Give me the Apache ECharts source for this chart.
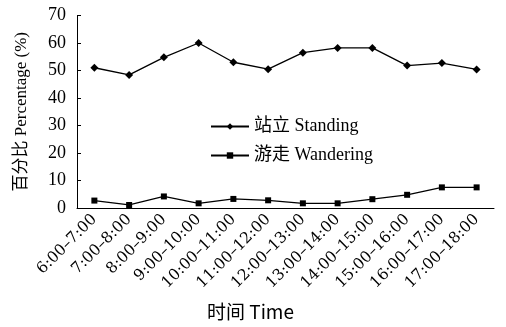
<!DOCTYPE html>
<html><head><meta charset="utf-8">
<script src="https://cdn.jsdelivr.net/npm/echarts@6/dist/echarts.min.js"></script>
<style>html,body{margin:0;padding:0;background:#fff}#c{width:506px;height:327px}</style>
</head><body><div id="c"></div>
<script>
const categories = ['6:00–7:00','7:00–8:00','8:00–9:00','9:00–10:00','10:00–11:00','11:00–12:00','12:00–13:00','13:00–14:00','14:00–15:00','15:00–16:00','16:00–17:00','17:00–18:00'];
const standing = [51.0, 48.4, 54.8, 60.0, 53.0, 50.5, 56.5, 58.2, 58.2, 51.8, 52.7, 50.4];
const wandering = [2.7, 1.1, 4.2, 1.7, 3.3, 2.8, 1.7, 1.7, 3.2, 4.8, 7.5, 7.5];
const yTicks = [0, 10, 20, 30, 40, 50, 60, 70];

const serif = '"Liberation Serif","Noto Sans CJK SC",serif';
const chart = echarts.init(document.getElementById('c'));
chart.setOption({
  animation: false,
  title: {
    text: '时间 Time', left: 207, top: 302, padding: 0,
    textStyle: {fontFamily: '"Noto Sans CJK SC","Liberation Mono",monospace', fontSize: 19, fontWeight: 'normal', color: '#000'}
  },
  legend: {
    orient: 'vertical', left: 210, top: 117.5, padding: 0, itemWidth: 38, itemHeight: 8, itemGap: 11,
    textStyle: {fontFamily: serif, fontSize: 18, color: '#000'},
    data: ['站立 Standing', '游走 Wandering']
  },
  grid: {left: 77, right: 12, top: 15.5, bottom: 119, containLabel: false},
  xAxis: {
    type: 'category', data: categories, boundaryGap: true,
    axisLine: {lineStyle: {color: '#000', width: 1}},
    axisTick: {inside: true, length: 4, lineStyle: {color: '#000'}},
    axisLabel: {rotate: 45, fontFamily: '"DejaVu Serif","Liberation Serif",serif', fontSize: 15.5, color: '#000', interval: 0, margin: 9}
  },
  yAxis: {
    type: 'value', min: 0, max: 70, interval: 10,
    name: '百分比 Percentage (%)', nameLocation: 'middle', nameGap: 47,
    nameTextStyle: {fontFamily: serif, fontSize: 17, color: '#000'},
    axisLine: {show: true, lineStyle: {color: '#000', width: 1}},
    axisTick: {show: true, inside: true, length: 4, lineStyle: {color: '#000'}},
    splitLine: {show: false},
    axisLabel: {fontFamily: serif, fontSize: 18, color: '#000', margin: 11,
      formatter: v => yTicks.includes(v) ? String(v) : ''}
  },
  series: [
    {name: '站立 Standing', type: 'line', data: standing, symbol: 'diamond', symbolSize: 8,
     lineStyle: {color: '#000', width: 1.3}, itemStyle: {color: '#000'}},
    {name: '游走 Wandering', type: 'line', data: wandering, symbol: 'rect', symbolSize: 6,
     lineStyle: {color: '#000', width: 1.3}, itemStyle: {color: '#000'}}
  ]
});
</script></body></html>
